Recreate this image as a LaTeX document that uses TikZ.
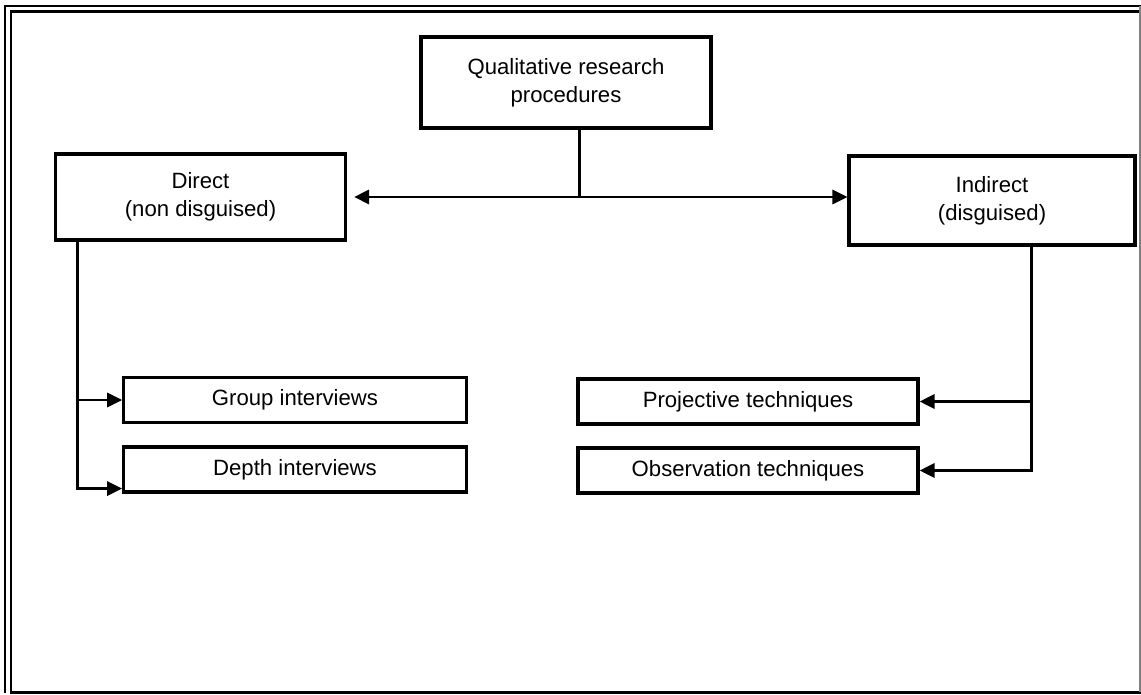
\documentclass[tikz,border=0pt]{standalone}
\usepackage{fontspec}
\setmainfont{Liberation Sans}
\usetikzlibrary{arrows.meta,calc}
\tikzset{
  qrp frame/.style={draw=black,line width=1pt},
  qrp box/.style={
    draw=black,
    line width=1.8pt,
    align=center,
    inner sep=4pt,
    font=\fontsize{12.6}{15.8}\selectfont
  },
  qrp top/.style={qrp box,minimum width=5.8cm,minimum height=1.82cm},
  qrp head/.style={qrp box,minimum width=5.8cm,minimum height=1.72cm},
  qrp leaf/.style={qrp box,minimum width=6.85cm,minimum height=0.9cm},
  qrp line/.style={line width=1.7pt},
  qrp arrow/.style={qrp line,-{Triangle[length=3mm,width=2.8mm]}},
  qrp biarrow/.style={qrp line,{Triangle[length=3mm,width=2.8mm]}-{Triangle[length=3mm,width=2.8mm]}}
}
\begin{document}
\begin{tikzpicture}[x=0.02cm,y=-0.02cm]
  \useasboundingbox (0,0) rectangle (1141,695);

  % double frame round the chart
  \draw[qrp frame] (1141,6) -- (5,6) -- (5,693);
  \draw[qrp frame,line width=1.7pt] (1141,12) -- (11,12) -- (11,692.5) -- (1141,692.5);
  \draw[gray,line width=0.6pt] (1140,6) -- (1140,692);

  \node[qrp top] (top) at (566,82.5) {Qualitative research\\procedures};

  \node[qrp head] (Direct) at (200.5,197) {Direct\\(non disguised)};
  \node[qrp head,minimum width=5.72cm,minimum height=1.78cm] (Indirect) at (992,200.5)
    {Indirect\\(disguised)};

  \node[qrp leaf] (Group) at (295,400) {Group interviews};
  \node[qrp leaf] (Depth) at (295,469.5) {Depth interviews};
  \node[qrp leaf,minimum width=6.8cm] (Projective) at (748,401.5) {Projective techniques};
  \node[qrp leaf,minimum width=6.8cm] (Observation) at (748,470.5) {Observation techniques};

  \coordinate (split) at (579,197);
  \draw[qrp line] (top.south -| split) -- (split);
  \draw[qrp biarrow,shorten <=4pt] (Direct.east) -- (Direct.east -| Indirect.west);

  \coordinate (dirspine) at ($(Direct.south west)+(24,0)$);
  \draw[qrp arrow] (dirspine) |- (Group.west);
  \draw[qrp arrow] (dirspine) |- ($(Depth.south west)+(0,-5)$);

  \coordinate (indspine) at ($(Indirect.south east)+(-105,0)$);
  \draw[qrp arrow] (indspine) |- (Projective.east);
  \draw[qrp arrow] (indspine) |- (Observation.east);
\end{tikzpicture}
\end{document}
